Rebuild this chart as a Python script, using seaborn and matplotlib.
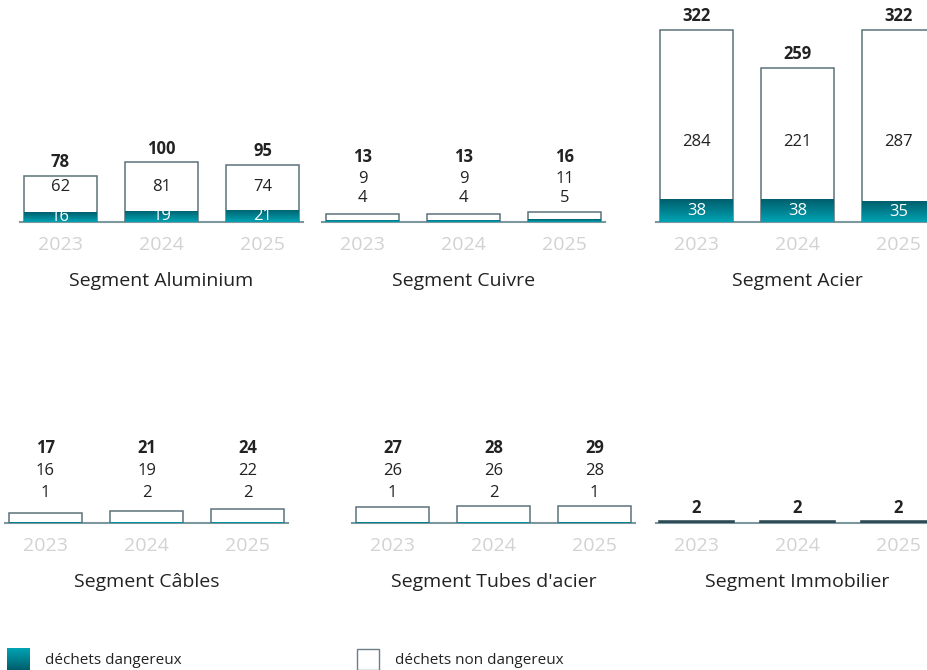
import numpy as np
import pandas as pd
import seaborn as sns
import matplotlib.pyplot as plt
from matplotlib.patches import Rectangle
from matplotlib.colors import LinearSegmentedColormap

years = ['2023', '2024', '2025']
segments = ['Segment Aluminium', 'Segment Cuivre', 'Segment Acier',
            'Segment Câbles', "Segment Tubes d'acier", 'Segment Immobilier']
dangereux = [[16, 19, 21], [4, 4, 5], [38, 38, 35],
             [1, 2, 2], [1, 2, 1], [0, 0, 0]]
non_dangereux = [[62, 81, 74], [9, 9, 11], [284, 221, 287],
                 [16, 19, 22], [26, 26, 28], [2, 2, 2]]
totaux = [[78, 100, 95], [13, 13, 16], [322, 259, 322],
          [17, 21, 24], [27, 28, 29], [2, 2, 2]]

sns.set_style('white')
plt.rcParams['font.family'] = ['Open Sans', 'DejaVu Sans']

W, H = 927, 670
fig = plt.figure(figsize=(W / 100, H / 100), dpi=100)

PX = 0.595          # pixels per unit on the shared value scale
AX_H = 214          # axes height in px
AX_W = 283          # axes width in px
ymax = AX_H / PX

# panel layout: left px, baseline px, label style, label offsets (px above baseline)
panels = [
    (20, 222, 'inside', 35),
    (322, 222, 'stack', (24, 43, 65)),
    (656, 222, 'inside', 80),
    (5, 523, 'stack', (30, 52, 75)),
    (352, 523, 'stack', (30, 52, 75)),
    (656, 523, 'total', None),
]

teal_grad = LinearSegmentedColormap.from_list('teal', ['#00a3b4', '#005f6c'])
dark = '#222222'
edge = '#5c717b'
VAL = 12

for k, (left, base, style, offs) in enumerate(panels):
    ax = fig.add_axes([left / W, 1 - base / H, AX_W / W, AX_H / H])
    df = pd.DataFrame({'annee': years, 'total': totaux[k], 'danger': dangereux[k],
                       'non': non_dangereux[k]})
    ec, lw = (edge, 1.1) if style != 'total' else ('#2e4b55', 2.6)
    sns.barplot(data=df, x='annee', y='total', color='white', edgecolor=ec,
                linewidth=lw, width=0.72, errorbar=None, saturation=1, ax=ax)
    n0 = len(ax.patches)
    sns.barplot(data=df, x='annee', y='danger', color='#007f8e', linewidth=0,
                width=0.72, errorbar=None, saturation=1, ax=ax)
    for p in ax.patches:
        p.set_zorder(3)
    grad = np.linspace(0, 1, 64).reshape(-1, 1)
    for p in ax.patches[n0:]:
        h = p.get_height()
        if h <= 0:
            continue
        x0, w = p.get_x(), p.get_width()
        im = ax.imshow(grad, extent=[x0, x0 + w, 0, h], cmap=teal_grad,
                       aspect='auto', origin='lower', zorder=3.1)
        im.set_clip_path(p)

    ax.set_xlim(-0.4, 2.4)
    ax.set_ylim(0, ymax)
    sns.despine(ax=ax, left=True)
    ax.spines['bottom'].set_color('#7d979f')
    ax.spines['bottom'].set_linewidth(1.5)
    ax.spines['bottom'].set_zorder(2)
    ax.set_yticks([])
    ax.set_xlabel('')
    ax.set_ylabel('')
    ax.tick_params(axis='x', length=0, pad=10, labelsize=14, labelcolor='#d2d2d2')

    for i in range(3):
        t, d, nd = totaux[k][i], dangereux[k][i], non_dangereux[k][i]
        if style == 'inside':
            ax.text(i, t + 14 / PX, str(t), ha='center', va='center',
                    fontsize=VAL, fontweight='bold', color=dark)
            ax.text(i, offs / PX, str(nd), ha='center', va='center',
                    fontsize=VAL, color=dark)
            ax.text(i, d / 2, str(d), ha='center', va='center',
                    fontsize=VAL, color='white', zorder=5)
        elif style == 'stack':
            ax.text(i, offs[0] / PX, str(d), ha='center', va='center',
                    fontsize=VAL, color=dark)
            ax.text(i, offs[1] / PX, str(nd), ha='center', va='center',
                    fontsize=VAL, color=dark)
            ax.text(i, offs[2] / PX, str(t), ha='center', va='center',
                    fontsize=VAL, fontweight='bold', color=dark)
        else:
            ax.text(i, t + 14 / PX, str(t), ha='center', va='center',
                    fontsize=VAL, fontweight='bold', color=dark)

    ax.text(0.5, -59 / AX_H, segments[k], transform=ax.transAxes,
            ha='center', va='center', fontsize=14, color=dark)

# legend
sw = fig.add_axes([7 / W, 0, 23 / W, 22 / H])
sw.imshow(np.linspace(0, 1, 32).reshape(-1, 1), cmap=teal_grad, aspect='auto')
sw.axis('off')
fig.text(45 / W, 1 - 660 / H, 'déchets dangereux', ha='left', va='center',
         fontsize=11, color=dark)
fig.patches.append(Rectangle((357 / W, 0), 22 / W, 21 / H, transform=fig.transFigure,
                             facecolor='white', edgecolor='#6b7f88', linewidth=1))
fig.text(395 / W, 1 - 660 / H, 'déchets non dangereux', ha='left', va='center',
         fontsize=11, color=dark)

fig.savefig('out.png', dpi=100)
